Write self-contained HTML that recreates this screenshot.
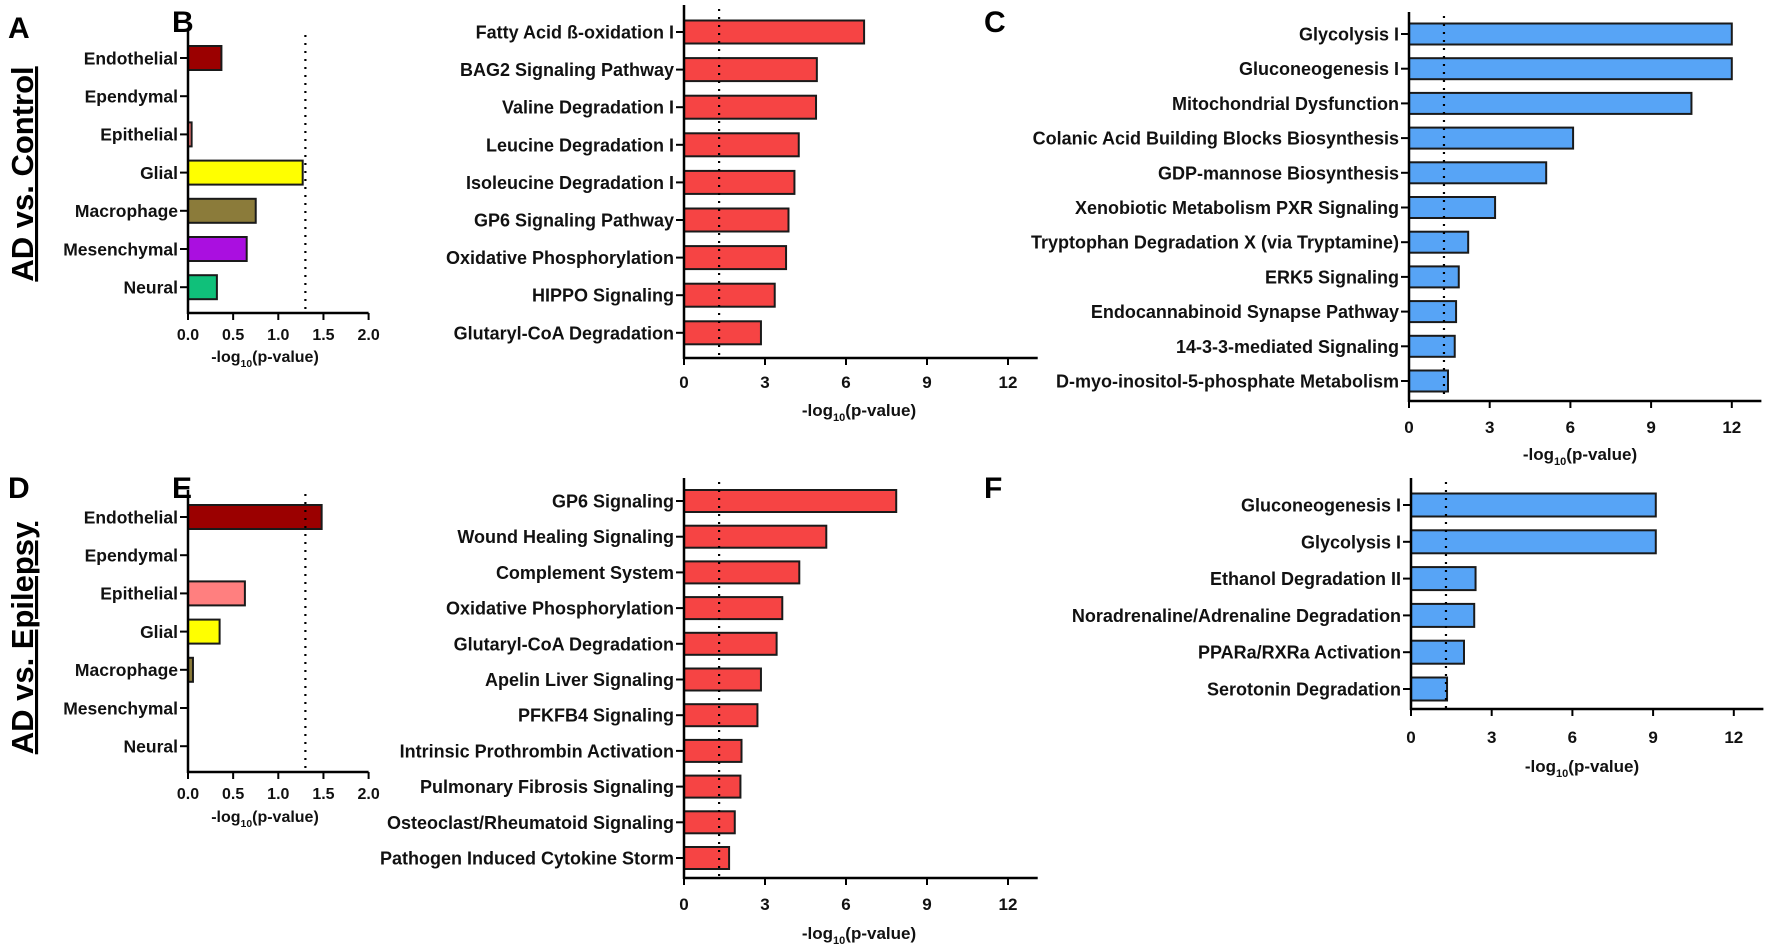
<!DOCTYPE html>
<html><head><meta charset="utf-8"><style>
html,body{margin:0;padding:0;background:#fff;}
svg{display:block;font-family:"Liberation Sans",Arial,sans-serif;font-weight:bold;}
</style></head><body>
<svg id="fig" width="1772" height="949" viewBox="0 0 1772 949" xmlns="http://www.w3.org/2000/svg"></svg>
<script>
const cellCats=["Endothelial","Ependymal","Epithelial","Glial","Macrophage","Mesenchymal","Neural"];
const cellColors=["#9b0000","#ffffff","#ff7f7f","#ffff00","#8b7b3a","#aa0fe0","#10c07a"];
const aValues=[0.37,0,0.04,1.27,0.75,0.65,0.32];
const dValues=[1.48,0,0.63,0.35,0.055,0,0];
const cellTicks=["0.0","0.5","1.0","1.5","2.0"];
const bCats=["Fatty Acid ß-oxidation I","BAG2 Signaling Pathway","Valine Degradation I","Leucine Degradation I","Isoleucine Degradation I","GP6 Signaling Pathway","Oxidative Phosphorylation","HIPPO Signaling","Glutaryl-CoA Degradation"];
const bValues=[6.67,4.92,4.89,4.25,4.09,3.87,3.78,3.36,2.85];
const cCats=["Glycolysis I","Gluconeogenesis I","Mitochondrial Dysfunction","Colanic Acid Building Blocks Biosynthesis","GDP-mannose Biosynthesis","Xenobiotic Metabolism PXR Signaling","Tryptophan Degradation X (via Tryptamine)","ERK5 Signaling","Endocannabinoid Synapse Pathway","14-3-3-mediated Signaling","D-myo-inositol-5-phosphate Metabolism"];
const cValues=[12.0,12.0,10.5,6.1,5.1,3.2,2.2,1.85,1.75,1.7,1.45];
const eCats=["GP6 Signaling","Wound Healing Signaling","Complement System","Oxidative Phosphorylation","Glutaryl-CoA Degradation","Apelin Liver Signaling","PFKFB4 Signaling","Intrinsic Prothrombin Activation","Pulmonary Fibrosis Signaling","Osteoclast/Rheumatoid Signaling","Pathogen Induced Cytokine Storm"];
const eValues=[7.86,5.27,4.27,3.64,3.43,2.85,2.72,2.13,2.09,1.88,1.67];
const fCats=["Gluconeogenesis I","Glycolysis I","Ethanol Degradation II","Noradrenaline/Adrenaline Degradation","PPARa/RXRa Activation","Serotonin Degradation"];
const fValues=[9.1,9.1,2.4,2.35,1.97,1.34];
const pathTicks=["0","3","6","9","12"];
const threshold=1.3;

const NS="http://www.w3.org/2000/svg";
const svg=document.getElementById('fig');
function mk(tag,attrs,parent){const e=document.createElementNS(NS,tag);for(const k in attrs)e.setAttribute(k,attrs[k]);(parent||svg).appendChild(e);return e;}

function panel(o){
  const g=mk('g',{});
  
  
  const sx=v=>o.x0+v*o.ppu;
  const sy=i=>o.y1+i*o.step;
  o.cats.forEach((c,i)=>{
    const v=o.vals[i];
    if(v>0){
      const r=mk('rect',{x:sx(0),y:sy(i)-o.bh/2,width:sx(v)-sx(0),height:o.bh,fill:Array.isArray(o.color)?o.color[i]:o.color,stroke:'#1a1a1a','stroke-width':2},g);
      
      
    }
    mk('line',{x1:sx(0)-8,x2:sx(0),y1:sy(i),y2:sy(i),stroke:'#000','stroke-width':2},g);
    const t=mk('text',{x:sx(0)-10,y:sy(i)+o.fs*0.36,'text-anchor':'end','font-size':o.fs,fill:'#111'},g);
    t.textContent=c;
    
    
  });
  const th=mk('line',{x1:sx(threshold),x2:sx(threshold),y1:o.top+4,y2:o.axisY,stroke:'#000','stroke-width':2.2,'stroke-dasharray':'2,6'},g);
  
  
  const ya=mk('line',{x1:sx(0),x2:sx(0),y1:o.top,y2:o.axisY+1,stroke:'#000','stroke-width':2.5},g);
  
  
  const xa=mk('line',{x1:sx(0)-1,x2:sx(o.xmax),y1:o.axisY,y2:o.axisY,stroke:'#000','stroke-width':2.5},g);
  
  
  o.ticks.forEach(tk=>{
    const v=parseFloat(tk);
    mk('line',{x1:sx(v),x2:sx(v),y1:o.axisY,y2:o.axisY+7,stroke:'#000','stroke-width':2},g);
    const t=mk('text',{x:sx(v),y:o.tickY,'text-anchor':'middle','font-size':o.tfs,fill:'#111'},g);
    t.textContent=tk;
    
    
  });
  const xl=mk('text',{x:o.xlX,y:o.xlY,'text-anchor':'middle','font-size':o.tfs,fill:'#111'},g);
  xl.innerHTML='-log<tspan font-size="'+(o.tfs*0.65)+'" dy="5">10</tspan><tspan dy="-5">(p-value)</tspan>';
  
  
}
function letter(ch,x,y){
  const t=mk('text',{x:x,y:y,'font-size':30,fill:'#000'});
  t.textContent=ch;
  
  
}
function rowTitle(txt,cx,cy,name){
  const t=mk('text',{x:0,y:0,transform:'translate('+cx+','+cy+') rotate(-90)','text-anchor':'middle','font-size':31,fill:'#000','text-decoration':'underline'});
  t.textContent=txt;
  
  
}

panel({name:'panel-a-cell-type-chart',cats:cellCats,vals:aValues,color:cellColors,x0:188,ppu:90.3,y1:58,step:38.2,bh:24,top:31,axisY:313,xmax:2.0,ticks:cellTicks,tickY:340,fs:17.5,tfs:16,xlX:265,xlY:362});
panel({name:'panel-d-cell-type-chart',cats:cellCats,vals:dValues,color:cellColors,x0:188,ppu:90.3,y1:517,step:38.2,bh:24,top:490,axisY:772,xmax:2.0,ticks:cellTicks,tickY:799,fs:17.5,tfs:16,xlX:265,xlY:822});
panel({name:'panel-b-pathway-chart',cats:bCats,vals:bValues,color:'#f64444',x0:684,ppu:27,y1:32,step:37.6,bh:23,top:5,axisY:358,xmax:13.1,ticks:pathTicks,tickY:388,fs:18,tfs:17,xlX:859,xlY:416});
panel({name:'panel-c-pathway-chart',cats:cCats,vals:cValues,color:'#57a4f6',x0:1409,ppu:26.9,y1:34,step:34.7,bh:21,top:12,axisY:401,xmax:13.1,ticks:pathTicks,tickY:433,fs:18,tfs:17,xlX:1580,xlY:460});
panel({name:'panel-e-pathway-chart',cats:eCats,vals:eValues,color:'#f64444',x0:684,ppu:27,y1:501,step:35.7,bh:22,top:478,axisY:878,xmax:13.1,ticks:pathTicks,tickY:910,fs:18,tfs:17,xlX:859,xlY:939});
panel({name:'panel-f-pathway-chart',cats:fCats,vals:fValues,color:'#57a4f6',x0:1411,ppu:26.9,y1:505,step:36.8,bh:23,top:478,axisY:709,xmax:13.1,ticks:pathTicks,tickY:743,fs:18,tfs:17,xlX:1582,xlY:772});

letter('A',8,38);letter('B',172,32);letter('C',984,32);
letter('D',8,498);letter('E',172,498);letter('F',984,498);
rowTitle('AD vs. Control',33,174,'row-title-ad-vs-control');
rowTitle('AD vs. Epilepsy',33,638,'row-title-ad-vs-epilepsy');
</script>
</body></html>
